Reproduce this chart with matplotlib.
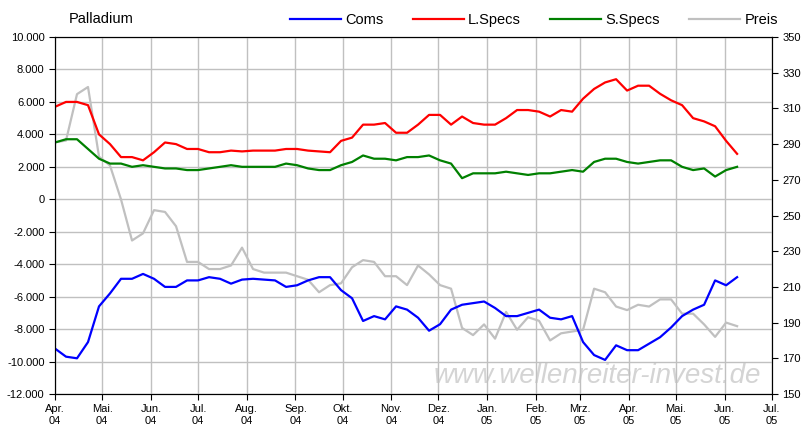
import matplotlib
matplotlib.use("Agg")
import matplotlib.pyplot as plt
import numpy as np
import pandas as pd

plt.rcParams['font.family'] = ['Liberation Sans', 'DejaVu Sans']

dates = pd.date_range("2004-04-01", periods=63, freq="7D")

coms = [-9200, -9700, -9800, -8800, -6600, -5800, -4900, -4900, -4600, -4900,
        -5400, -5400, -5000, -5000, -4800, -4900, -5200, -4950, -4900, -4950,
        -5000, -5400, -5300, -5000, -4800, -4800, -5600, -6100, -7500, -7200,
        -7400, -6600, -6800, -7300, -8100, -7700, -6800, -6500, -6400, -6300,
        -6700, -7200, -7200, -7000, -6800, -7300, -7400, -7200, -8800, -9600,
        -9900, -9000, -9300, -9300, -8900, -8500, -7900, -7200, -6800, -6500,
        -5000, -5300, -4800]
lspecs = [5700, 6000, 6000, 5800, 4000, 3400, 2600, 2600, 2400, 2900,
          3500, 3400, 3100, 3100, 2900, 2900, 3000, 2950, 3000, 3000,
          3000, 3100, 3100, 3000, 2950, 2900, 3600, 3800, 4600, 4600,
          4700, 4100, 4100, 4600, 5200, 5200, 4600, 5100, 4700, 4600,
          4600, 5000, 5500, 5500, 5400, 5100, 5500, 5400, 6200, 6800,
          7200, 7400, 6700, 7000, 7000, 6500, 6100, 5800, 5000, 4800,
          4500, 3600, 2800]
sspecs = [3500, 3700, 3700, 3100, 2500, 2200, 2200, 2000, 2100, 2000,
          1900, 1900, 1800, 1800, 1900, 2000, 2100, 2000, 2000, 2000,
          2000, 2200, 2100, 1900, 1800, 1800, 2100, 2300, 2700, 2500,
          2500, 2400, 2600, 2600, 2700, 2400, 2200, 1300, 1600, 1600,
          1600, 1700, 1600, 1500, 1600, 1600, 1700, 1800, 1700, 2300,
          2500, 2500, 2300, 2200, 2300, 2400, 2400, 2000, 1800, 1900,
          1400, 1800, 2000]
preis = [291, 292, 318, 322, 283, 278, 259, 236, 240, 253,
         252, 244, 224, 224, 220, 220, 222, 232, 220, 218,
         218, 218, 216, 214, 207, 211, 212, 221, 225, 224,
         216, 216, 211, 222, 217, 211, 209, 187, 183, 189,
         181, 196, 186, 193, 191, 180, 184, 185, 186, 209,
         207, 199, 197, 200, 199, 203, 203, 195, 195, 189,
         182, 190, 188]

month_labels = ["Apr.\n04", "Mai.\n04", "Jun.\n04", "Jul.\n04", "Aug.\n04", "Sep.\n04",
                "Okt.\n04", "Nov.\n04", "Dez.\n04", "Jan.\n05", "Feb.\n05", "Mrz.\n05",
                "Apr.\n05", "Mai.\n05", "Jun.\n05", "Jul.\n05"]
month_ticks = pd.date_range("2004-04-01", periods=16, freq="MS")

fig = plt.figure(figsize=(8.03, 4.46), dpi=100)
ax = fig.add_axes([0.0685, 0.1166, 0.8925, 0.8004])
ax2 = ax.twinx()

ax.text(0.985, 0.015, "www.wellenreiter-invest.de", transform=ax.transAxes,
        ha="right", va="bottom", fontsize=20, style="italic", color="#d4d4d4", zorder=0)
ax.plot(dates, coms, color="#0000ff", lw=1.6, label="Coms")
ax.plot(dates, lspecs, color="#ff0000", lw=1.6, label="L.Specs")
ax.plot(dates, sspecs, color="#008000", lw=1.6, label="S.Specs")
ax2.plot(dates, preis, color="#c0c0c0", lw=1.6, label="Preis")
ax.set_zorder(ax2.get_zorder() + 1)
ax.patch.set_visible(False)

ax.set_ylim(-12000, 10000)
ax.set_yticks(np.arange(-12000, 10001, 2000))
ax.yaxis.set_major_formatter(lambda v, p: f"{int(v):,}".replace(",", "."))
ax2.set_ylim(150, 350)
ax2.set_yticks(np.arange(150, 351, 20))
ax.set_xlim(month_ticks[0], month_ticks[-1])
ax.set_xticks(month_ticks)
ax.set_xticklabels(month_labels)
ax2.grid(False)
ax.grid(True, color="#c0c0c0", lw=1)
for a in (ax, ax2):
    a.tick_params(labelsize=8, length=4, direction="out")
    for s in a.spines.values():
        s.set_color("black")

fig.text(0.085, 0.958, "Palladium", fontsize=10.5, va="center")

h1, l1 = ax.get_legend_handles_labels()
h2, l2 = ax2.get_legend_handles_labels()
fig.legend(h1 + h2, l1 + l2, loc="center", bbox_to_anchor=(0.665, 0.955), ncol=4,
           frameon=False, fontsize=10.5, handlelength=3.5, columnspacing=2.0, handletextpad=0.3)

fig.savefig("out.png", dpi=100)
